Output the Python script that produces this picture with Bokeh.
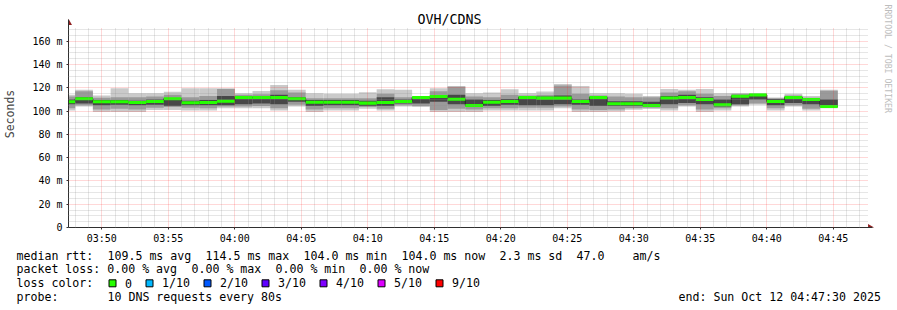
import math
import re
import pandas as pd
from bokeh.plotting import figure
from bokeh.models import FixedTicker, ColumnDataSource, Range1d, DatetimeTickFormatter
from bokeh.layouts import column, row
from bokeh.core.properties import value
from bokeh.embed import file_html
from bokeh.resources import INLINE

# ---------------- data ----------------
title = "OVH/CDNS"
day = "2025-10-12"
t_start = "2025-10-12 03:47:30"
t_end = "2025-10-12 04:47:30"
first_step = "2025-10-12 03:46:40"
step_seconds = 80

# per 80 s step: smoke bounds (ms) and median rtt (ms)
ping_min = [100.6, 104.0, 99.2, 99.2, 99.2, 101.0, 101.0, 100.6, 100.6, 102.6, 102.6, 102.6,
            100.6, 104.0, 99.2, 100.6, 100.6, 102.0, 100.6, 104.0, 103.5, 99.2, 99.2, 99.2,
            100.6, 100.6, 100.6, 100.6, 102.6, 99.2, 99.2, 99.8, 101.2, 101.8, 100.6, 104.0,
            99.2, 100.6, 104.0, 105.5, 100.6, 104.0, 100.6, 102.6]
ping_max = [114.0, 118.3, 113.4, 119.7, 115.4, 115.4, 116.6, 119.7, 119.7, 119.7, 115.4, 117.4,
            122.5, 118.3, 115.4, 114.9, 114.9, 116.3, 118.8, 118.3, 112.6, 119.7, 121.7, 115.4,
            116.0, 118.8, 115.4, 116.8, 123.4, 121.7, 115.4, 115.4, 114.9, 113.1, 119.1, 118.3,
            119.1, 115.4, 115.4, 114.6, 111.7, 114.9, 113.1, 118.3]
ping_mid_lo = [102.5, 105.0, 101.5, 102.0, 101.5, 103.0, 103.5, 103.0, 102.5, 104.0, 104.0, 104.5,
               102.5, 105.5, 101.5, 102.5, 102.5, 103.5, 102.0, 105.0, 104.5, 101.0, 102.0, 101.5,
               102.5, 102.5, 103.0, 103.0, 104.0, 101.5, 101.0, 101.5, 102.5, 103.0, 102.5, 105.0,
               101.5, 102.5, 105.0, 106.5, 102.5, 105.0, 102.0, 103.5]
ping_mid_hi = [112.5, 117.0, 111.5, 112.0, 112.0, 112.5, 114.0, 112.0, 113.0, 119.0, 114.0, 114.5,
               118.0, 116.0, 111.0, 111.0, 111.0, 111.0, 115.0, 112.0, 112.0, 117.0, 121.0, 112.5,
               112.0, 114.0, 113.5, 114.0, 122.0, 115.0, 113.5, 112.5, 112.0, 112.0, 116.0, 117.0,
               115.0, 113.0, 115.0, 114.5, 111.0, 113.5, 111.5, 117.5]
ping_core_lo = [106.0, 106.5, 105.0, 105.5, 105.0, 105.5, 104.5, 105.0, 105.0, 105.0, 106.0, 106.5,
                106.0, 108.0, 104.5, 105.0, 105.0, 104.5, 104.5, 106.5, 106.5, 108.0, 106.0, 104.0,
                104.5, 105.5, 105.0, 105.0, 106.0, 105.5, 104.5, 104.5, 104.5, 104.0, 106.0, 107.0,
                106.0, 104.0, 106.0, 110.0, 105.0, 107.0, 106.0, 104.5]
ping_core_hi = [110.0, 112.0, 109.5, 109.5, 109.0, 110.0, 111.0, 109.0, 109.5, 113.0, 113.0, 112.5,
                114.0, 112.0, 109.5, 109.5, 109.5, 109.0, 112.0, 110.0, 111.5, 113.5, 114.0, 110.0,
                109.5, 110.5, 112.5, 112.5, 113.5, 110.0, 112.5, 108.5, 108.5, 108.0, 113.0, 114.0,
                112.0, 110.0, 113.5, 114.3, 110.5, 112.5, 111.0, 110.0]
median_rtt = [108.0, 110.6, 108.0, 108.0, 107.5, 108.3, 110.6, 107.2, 107.5, 108.6, 111.7, 111.7,
              111.7, 110.6, 107.7, 107.7, 107.7, 106.9, 107.5, 108.3, 111.7, 112.6, 110.3, 104.9,
              107.7, 108.3, 111.7, 111.2, 111.2, 108.3, 111.7, 106.3, 106.3, 104.9, 111.4, 111.7,
              110.0, 105.5, 112.9, 114.0, 108.3, 111.7, 110.0, 104.0]
ping_loss = [0, 0, 0, 0, 0, 0, 0, 0, 0, 0, 0, 0, 0, 0, 0, 0, 0, 0, 0, 0, 0, 0,
             0, 0, 0, 0, 0, 0, 0, 0, 0, 0, 0, 0, 0, 0, 0, 0, 0, 0, 0, 0, 0, 0]

y_tick_values = [0, 20, 40, 60, 80, 100, 120, 140, 160]
y_tick_labels = ["0", "20 m", "40 m", "60 m", "80 m", "100 m", "120 m", "140 m", "160 m"]
x_tick_labels = ["03:50", "03:55", "04:00", "04:05", "04:10", "04:15", "04:20",
                 "04:25", "04:30", "04:35", "04:40", "04:45"]

loss_levels = [0, 1, 2, 3, 4, 5, 9]
loss_labels = ["0", "1/10", "2/10", "3/10", "4/10", "5/10", "9/10"]
loss_colors = ["#26ff00", "#00b8ff", "#0059ff", "#5e00ff", "#7e00ff", "#dd00ff", "#ff0000"]

median_avg, median_max, median_min, median_now, median_sd, am_s = 109.5, 114.5, 104.0, 104.0, 2.3, 47.0
loss_avg, loss_max, loss_min, loss_now = 0.00, 0.00, 0.00, 0.00
probe_text = "10 DNS requests every 80s"
end_text = "end: Sun Oct 12 04:47:30 2025"
watermark = "RRDTOOL / TOBI OETIKER"

# ---------------- layout / styles ----------------
MONO = "DejaVu Sans Mono"
smoke_colors = ["#cacaca", "#9a9a9a", "#474747"]
median_halfwidth = 1.3          # ms, half height of the coloured median band
W, H_TOP, H_LEG = 897, 246, 64
FR_LEFT, FR_BOTTOM = 66, 228      # frame left / bottom (canvas px); frame reaches canvas top & right
CHART_W = 800                     # px for the 1 h window
Y_TOP = 172                       # top of the chart area (ms)
PX_PER_MS = 201 / Y_TOP

ts0 = pd.Timestamp(t_start)
ts1 = pd.Timestamp(t_end)
sec_per_px = (ts1 - ts0).total_seconds() / CHART_W


def t_at(px):           # canvas x -> time
    return ts0 + pd.Timedelta(seconds=(px - FR_LEFT) * sec_per_px)


def v_at(py):           # canvas y -> value
    return (FR_BOTTOM - py) / PX_PER_MS


def ms(ts):
    return ts.value / 1e6


# ---------------- chart ----------------
starts = pd.date_range(first_step, periods=len(median_rtt), freq=f"{step_seconds}s")
ends = starts + pd.Timedelta(seconds=step_seconds)
color_of = dict(zip(loss_levels, loss_colors))
src = ColumnDataSource(dict(
    left=starts, right=ends,
    lo=ping_min, hi=ping_max, mlo=ping_mid_lo, mhi=ping_mid_hi,
    clo=ping_core_lo, chi=ping_core_hi,
    gb=[m - median_halfwidth for m in median_rtt],
    gt=[m + median_halfwidth for m in median_rtt],
    gc=[color_of[l] for l in ping_loss],
))

p = figure(width=W, height=H_TOP, x_axis_type="datetime",
           x_range=Range1d(ts0, t_at(W)), y_range=Range1d(0, v_at(0)),
           output_backend="svg", toolbar_location=None, title=None,
           min_border_left=FR_LEFT, min_border_right=0, min_border_top=0,
           min_border_bottom=H_TOP - FR_BOTTOM)
p.outline_line_color = None
p.background_fill_color = "white"
p.border_fill_color = "white"

p.quad(left="left", right="right", bottom="lo", top="hi", source=src,
       fill_color=smoke_colors[0], line_color=None)
p.quad(left="left", right="right", bottom="mlo", top="mhi", source=src,
       fill_color=smoke_colors[1], line_color=None)
p.quad(left="left", right="right", bottom="clo", top="chi", source=src,
       fill_color=smoke_colors[2], line_color=None)
p.step(x=list(starts) + [ends[-1]], y=median_rtt + [median_rtt[-1]], mode="after",
       line_color="#202020", line_width=1)
p.quad(left="left", right="right", bottom="gb", top="gt", source=src,
       fill_color="gc", line_color=None)

major_x = [pd.Timestamp(f"{day} {l}") for l in x_tick_labels]
minor_x = [t for t in pd.date_range(f"{day} 03:48", f"{day} 04:47", freq="1min") if t.minute % 5 != 0]
xt = FixedTicker(ticks=[ms(t) for t in major_x], minor_ticks=[ms(t) for t in minor_x])
yt = FixedTicker(ticks=y_tick_values,
                 minor_ticks=[v for v in range(5, Y_TOP, 5) if v % 20 != 0])
p.xaxis.ticker = xt
p.yaxis.ticker = yt
p.xgrid.ticker = xt
p.ygrid.ticker = yt
p.xaxis.formatter = DatetimeTickFormatter(minutes="%H:%M", hourmin="%H:%M", hours="%H:%M",
                                          minsec="%H:%M")
p.yaxis.major_label_overrides = dict(zip(y_tick_values, y_tick_labels))

arrow_tip_x = t_at(FR_LEFT + CHART_W + 6)
arrow_tip_y = v_at(FR_BOTTOM - 201 - 8)
p.xaxis.bounds = (ms(ts0), ms(arrow_tip_x))
p.yaxis.bounds = (0, arrow_tip_y)

for ax in (p.xaxis[0], p.yaxis[0]):
    ax.axis_line_color = "#303030"
    ax.major_tick_line_color = "#303030"
    ax.major_tick_out = 2
    ax.major_tick_in = 0
    ax.minor_tick_out = 0
    ax.minor_tick_in = 0
    ax.major_label_text_font = MONO
    ax.major_label_text_font_size = "10px"
    ax.major_label_text_color = "#000000"
p.xaxis.major_label_standoff = 3
p.yaxis.major_label_standoff = 4
p.yaxis.axis_label = "Seconds"
p.yaxis.axis_label_text_font = MONO
p.yaxis.axis_label_text_font_size = "11.5px"
p.yaxis.axis_label_text_font_style = "normal"
p.yaxis.axis_label_standoff = 12

for g in (p.xgrid[0], p.ygrid[0]):
    g.level = "annotation"
    g.grid_line_color = "#ff2020"
    g.grid_line_alpha = 0.35
    g.grid_line_dash = "1 1"
    g.minor_grid_line_color = "#909090"
    g.minor_grid_line_alpha = 0.45
    g.minor_grid_line_dash = "1 1"
p.xgrid[0].cross_bounds = (0, Y_TOP)
p.ygrid[0].cross_bounds = (ms(ts0), ms(t_at(FR_LEFT + CHART_W + 2)))

# arrow heads at the axis ends
p.scatter(x=[ts0], y=[v_at(FR_BOTTOM - 201 - 4.5)], marker="triangle", size=7,
          fill_color="#902020", line_color=None)
p.scatter(x=[t_at(FR_LEFT + CHART_W + 3.5)], y=[0], marker="triangle", size=7,
          angle=-math.pi / 2, fill_color="#902020", line_color=None)

# title and watermark
p.text(x=[t_at(448)], y=[v_at(19)], text=[title], text_font=value(MONO),
       text_font_size="13.3px", text_align="center", text_baseline="middle",
       text_color="#000000")
p.text(x=[t_at(887)], y=[v_at(4)], text=[watermark], angle=-math.pi / 2,
       text_font=value(MONO), text_font_size="8.2px", text_align="left",
       text_baseline="middle", text_color="#bdbdbd")

# ---------------- legend block ----------------
q = figure(width=W, height=H_LEG, x_range=Range1d(0, W), y_range=Range1d(H_LEG, 0),
           output_backend="svg", toolbar_location=None, title=None,
           x_axis_location=None, y_axis_location=None, min_border=0)
q.grid.visible = False
q.outline_line_color = None
q.background_fill_color = "white"
q.border_fill_color = "white"

line_y0, line_dy, text_x, char_w = 9, 13.9, 16, 7.0
lines = [
    f"median rtt:  {median_avg:.1f} ms avg  {median_max:.1f} ms max  {median_min:.1f} ms min  "
    f"{median_now:.1f} ms now  {median_sd:.1f} ms sd  {am_s:.1f}    am/s",
    f"packet loss: {loss_avg:.2f} % avg  {loss_max:.2f} % max  {loss_min:.2f} % min  {loss_now:.2f} % now",
    "loss color:",
    f"probe:       {probe_text}",
]
seg_x, seg_y, seg_t = [], [], []
for i, ln in enumerate(lines):
    for m in re.finditer(r"\S+(?: \S+)*", ln):
        seg_x.append(text_x + m.start() * char_w)
        seg_y.append(line_y0 + i * line_dy)
        seg_t.append(m.group(0))
seg_x.append(678)
seg_y.append(line_y0 + 3 * line_dy)
seg_t.append(end_text)
q.text(x=seg_x, y=seg_y, text=seg_t, text_font=value(MONO), text_font_size="11.6px",
       text_baseline="middle", text_color="#000000")

lab_x = []
x0 = text_x + 15.5 * char_w
for lbl in loss_labels:
    lab_x.append(x0)
    x0 += len(lbl) * char_w + 30
ly = line_y0 + 2 * line_dy
q.rect(x=[x - 12.5 for x in lab_x], y=[ly] * len(lab_x), width=7, height=7,
       fill_color=loss_colors, line_color="#000000", line_width=1)
q.text(x=lab_x, y=[ly] * len(lab_x), text=loss_labels,
       text_font=value(MONO), text_font_size="11.6px", text_baseline="middle",
       text_color="#000000")

layout = column(p, row(q), spacing=0)
open("out.html", "w").write(file_html(layout, INLINE))
